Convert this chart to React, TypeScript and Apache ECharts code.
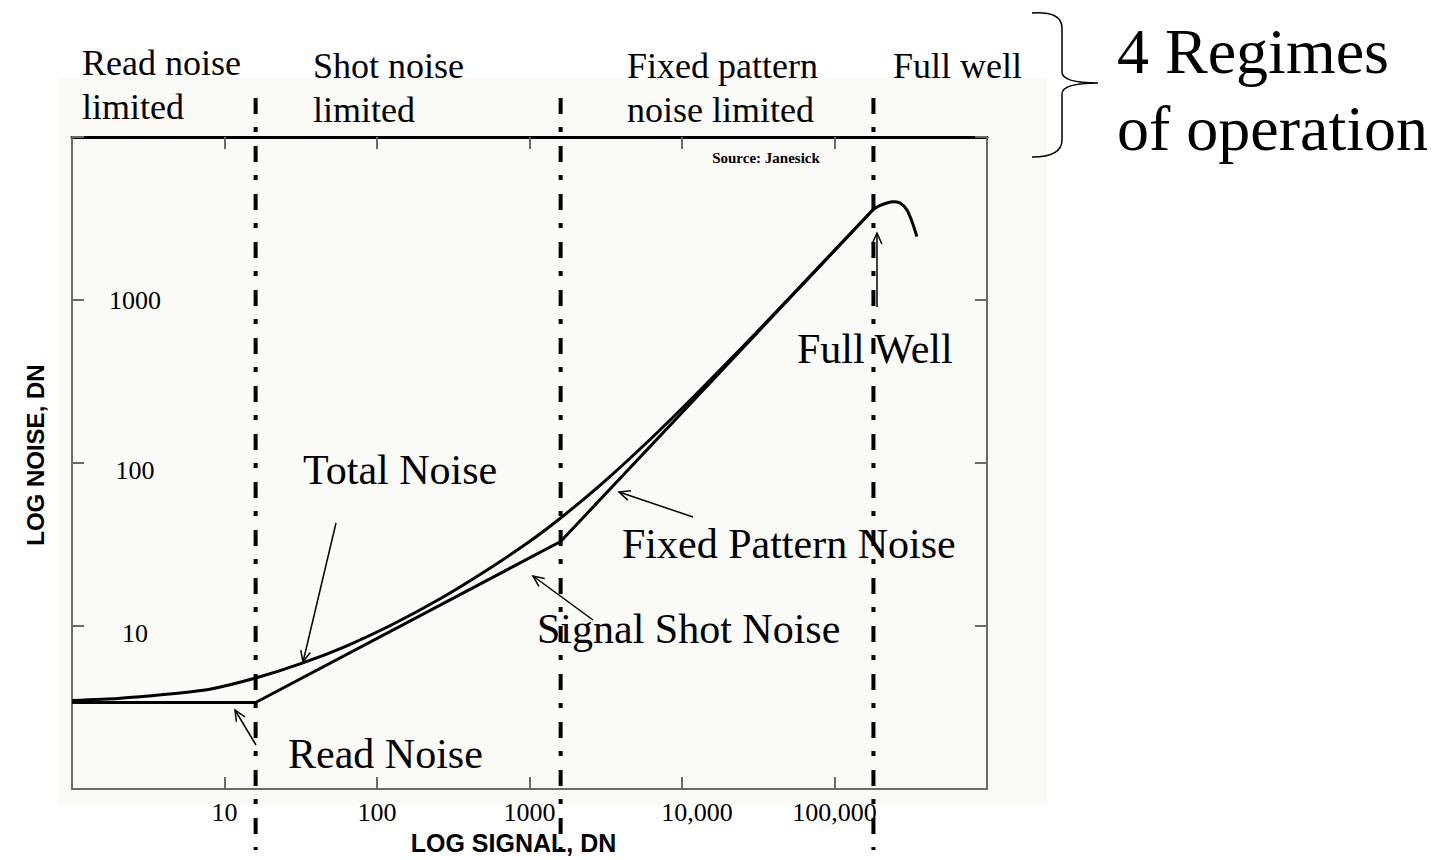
import React, { useEffect, useRef } from 'react';
import * as echarts from 'echarts';

// ---------- data ----------
const xTickValues = [10, 100, 1000, 10000, 100000];
const xTickLabels = ['10', '100', '1000', '10,000', '100,000'];
const yTickValues = [10, 100, 1000];
const yTickLabels = ['10', '100', '1000'];

// total noise (upper curve) [signal DN, noise DN]
const totalNoise: [number, number][] = [
  [1, 3.5], [2, 3.6], [4, 3.8], [8, 4.1], [16, 4.8], [32, 5.9], [64, 7.6],
  [128, 10.3], [256, 14.6], [512, 21.7], [1000, 33], [1600, 46], [3000, 75],
  [6000, 136], [12000, 257], [25000, 517], [50000, 1017], [100000, 2017], [180000, 3600],
];
// read noise -> signal shot noise -> fixed pattern noise (lower piecewise line)
const componentNoise: [number, number][] = [
  [1, 3.4], [16, 3.4], [1600, 33], [180000, 3600],
];
// full well roll-off
const fullWell: [number, number][] = [
  [180000, 3600], [198000, 3790], [221000, 3940], [242000, 4010], [269000, 3940],
  [298000, 3580], [322000, 3030], [347000, 2450],
];
// regime boundaries (signal DN)
const regimeBounds = [16, 1600, 180000];

const regimeTexts = [
  ['Read noise', 'limited'],
  ['Shot noise', 'limited'],
  ['Fixed pattern', 'noise limited'],
  ['Full well'],
];
const bigTitle = ['4 Regimes', 'of operation'];
const curveLabels = ['Total Noise', 'Read Noise', 'Signal Shot Noise', 'Fixed Pattern Noise', 'Full Well'];

const SERIF = '"Liberation Serif", "Times New Roman", serif';
const SANS = '"Liberation Sans", Arial, sans-serif';

echarts.graphic.registerShape(
  'brace',
  echarts.graphic.extendPath(
    'M2,3 Q32,1 32,18 L32,62 Q32,73 68,73 Q32,73 32,84 L32,130 Q32,147 2,147',
    {}
  )
);

function fmtX(v: number) {
  const i = xTickValues.findIndex((t) => Math.abs(t - v) / t < 1e-6);
  if (i < 0) return '';
  if (xTickLabels[i] === '10,000') return '{s|' + xTickLabels[i] + '}';
  return xTickLabels[i];
}
function fmtY(v: number) {
  const i = yTickValues.findIndex((t) => Math.abs(t - v) / t < 1e-6);
  if (i < 0) return '';
  if (yTickLabels[i] === '1000') return yTickLabels[i];
  return '{d|' + yTickLabels[i] + '}';
}

function arrow(tail: number[], tip: number[]) {
  const dx = tip[0] - tail[0];
  const dy = tip[1] - tail[1];
  const len = Math.hypot(dx, dy);
  const ux = dx / len;
  const uy = dy / len;
  const L = 12;
  const a = 0.42;
  const rot = (ang: number) => [
    tip[0] - L * (ux * Math.cos(ang) - uy * Math.sin(ang)),
    tip[1] - L * (ux * Math.sin(ang) + uy * Math.cos(ang)),
  ];
  const style = { stroke: '#000', lineWidth: 1.5, fill: 'none' };
  return [
    { type: 'line', z: 20, shape: { x1: tail[0], y1: tail[1], x2: tip[0], y2: tip[1] }, style },
    { type: 'polyline', z: 20, shape: { points: [rot(a), tip, rot(-a)] }, style },
  ];
}

export default function App() {
  const ref = useRef<HTMLDivElement>(null);
  useEffect(() => {
    if (!ref.current) return;
    const chart = echarts.init(ref.current, undefined, { renderer: 'svg' });
    const gray = '#6a6a6a';
    const option: any = {
      animation: false,
      backgroundColor: '#ffffff',
      grid: { left: 72, top: 137, width: 915, height: 655, containLabel: false },
      xAxis: [
        {
          type: 'log', logBase: 10, min: 1, max: 1000000, splitNumber: 6, position: 'bottom',
          axisLine: { lineStyle: { color: gray, width: 2 } },
          axisTick: { inside: true, length: 12, lineStyle: { color: gray, width: 2 } },
          minorTick: { show: false }, splitLine: { show: false },
          axisLabel: {
            margin: 10, fontFamily: SERIF, fontSize: 26, color: '#000',
            formatter: fmtX,
            rich: { s: { padding: [0, 0, 0, 30], fontFamily: SERIF, fontSize: 26, color: '#000' } },
          },
          name: 'LOG SIGNAL, DN', nameLocation: 'middle', nameGap: 38,
          nameTextStyle: { fontFamily: SANS, fontWeight: 'bold', fontSize: 25, color: '#000', padding: [0, 32, 0, 0] },
        },
        {
          type: 'log', logBase: 10, min: 1, max: 1000000, splitNumber: 6, position: 'top',
          axisLine: { lineStyle: { color: '#000', width: 3 } },
          axisTick: { inside: true, length: 12, lineStyle: { color: gray, width: 2 } },
          axisLabel: { show: false }, splitLine: { show: false },
        },
      ],
      yAxis: [
        {
          type: 'log', logBase: 10, min: 1, max: 10000, splitNumber: 4, position: 'left',
          axisLine: { lineStyle: { color: gray, width: 2 } },
          axisTick: { inside: true, length: 12, lineStyle: { color: gray, width: 2 } },
          splitLine: { show: false },
          axisLabel: {
            inside: true, margin: 63, align: 'center', fontFamily: SERIF, fontSize: 26, color: '#000',
            formatter: fmtY,
            rich: { d: { padding: [15, 0, 0, 0], fontFamily: SERIF, fontSize: 26, color: '#000' } },
          },
          name: 'LOG NOISE, DN', nameLocation: 'middle', nameGap: 25, nameRotate: 90,
          nameTextStyle: { fontFamily: SANS, fontWeight: 'bold', fontSize: 24, color: '#000', padding: [0, 0, 0, 16] },
        },
        {
          type: 'log', logBase: 10, min: 1, max: 10000, splitNumber: 4, position: 'right',
          axisLine: { lineStyle: { color: gray, width: 2 } },
          axisTick: { inside: true, length: 12, lineStyle: { color: gray, width: 2 } },
          axisLabel: { show: false }, splitLine: { show: false },
        },
      ],
      series: [
        {
          name: 'Total Noise', type: 'line', data: totalNoise, showSymbol: false, smooth: 0.2,
          lineStyle: { color: '#000', width: 3 }, z: 3,
        },
        {
          name: 'Components', type: 'line', data: componentNoise, showSymbol: false,
          lineStyle: { color: '#000', width: 3 }, z: 3,
        },
        {
          name: 'Full Well', type: 'line', data: fullWell, showSymbol: false, smooth: 0.3,
          lineStyle: { color: '#000', width: 3 }, z: 3,
        },
      ],
    };
    chart.setOption(option);

    const graphics: any[] = [];
    // light panel behind the figure
    graphics.push({
      type: 'rect', z: -10, silent: true,
      shape: { x: 58, y: 78, width: 989, height: 727 },
      style: { fill: '#fafaf7' },
    });
    // regime boundaries
    regimeBounds.forEach((v) => {
      const px = chart.convertToPixel({ xAxisIndex: 0 }, v) as number;
      graphics.push({
        type: 'line', z: 30,
        shape: { x1: px, y1: 98, x2: px, y2: 850 },
        style: { stroke: '#000', lineWidth: 4, lineDash: [16, 13, 5, 14] },
      });
    });
    // regime labels
    const regimePos = [[82, 63], [313, 66], [627, 66], [893, 66]];
    regimeTexts.forEach((lines, i) => {
      lines.forEach((t, j) => {
        graphics.push({
          type: 'text', z: 20, x: regimePos[i][0], y: regimePos[i][1] + j * 44,
          style: { text: t, font: `36px ${SERIF}`, fill: '#000', align: 'left', verticalAlign: 'middle' },
        });
      });
    });
    // big title
    bigTitle.forEach((t, j) => {
      graphics.push({
        type: 'text', z: 20, x: 1117, y: 51 + j * 77,
        style: { text: t, font: `64px ${SERIF}`, fill: '#000', align: 'left', verticalAlign: 'middle' },
      });
    });
    // brace
    graphics.push({
      type: 'brace', z: 20, x: 1030, y: 10,
      style: { stroke: '#000', lineWidth: 1.5, fill: 'none' },
    });
    // source
    graphics.push({
      type: 'text', z: 20, x: 766, y: 158,
      style: { text: 'Source: Janesick', font: `bold 15px ${SERIF}`, fill: '#000', align: 'center', verticalAlign: 'middle' },
    });
    // curve labels
    const labelPos = [[303, 470], [288, 754], [537, 629], [622, 544], [797, 349]];
    curveLabels.forEach((t, i) => {
      graphics.push({
        type: 'text', z: 20, x: labelPos[i][0], y: labelPos[i][1],
        style: { text: t, font: `42px ${SERIF}`, fill: '#000', align: 'left', verticalAlign: 'middle' },
      });
    });
    // arrows [tail, tip]
    const arrows = [
      [[336, 523], [303, 662]],
      [[256, 745], [235, 710]],
      [[593, 620], [533, 576]],
      [[693, 517], [619, 492]],
      [[877, 307], [877, 233]],
    ];
    arrows.forEach(([a, b]) => graphics.push(...arrow(a, b)));

    chart.setOption({ graphic: graphics });
    return () => chart.dispose();
  }, []);
  return (
    <div
      ref={ref}
      style={{ position: 'fixed', left: 0, top: 0, width: 1441, height: 860 }}
    />
  );
}
